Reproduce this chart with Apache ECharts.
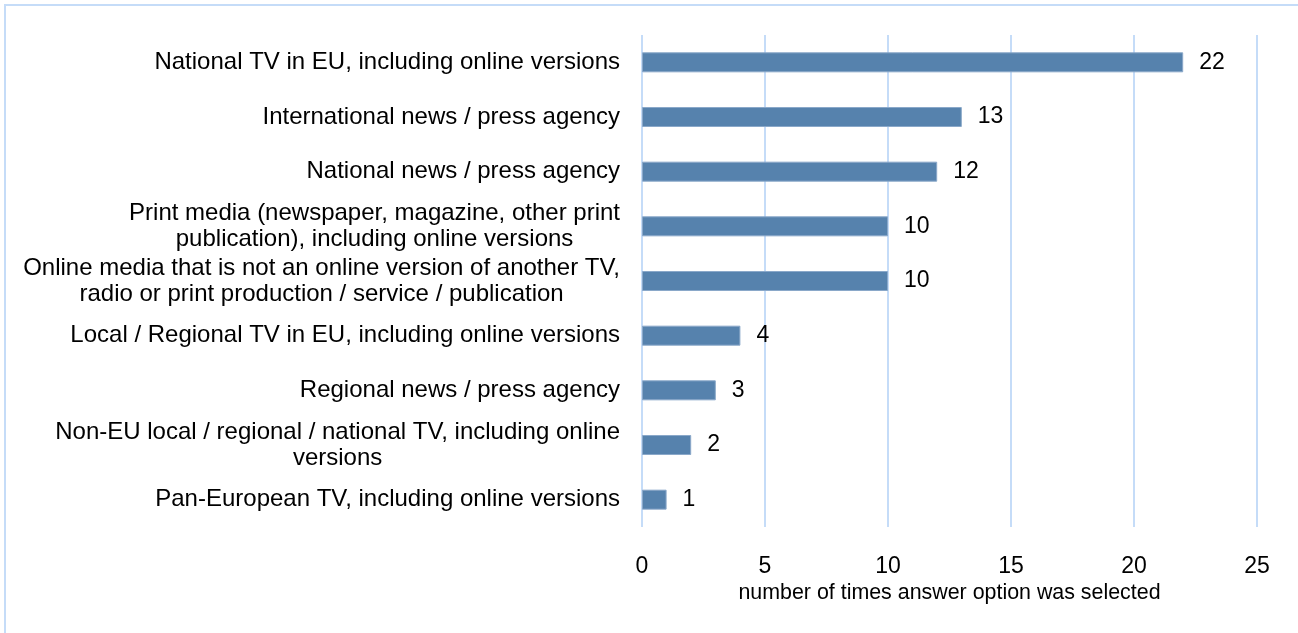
<!DOCTYPE html>
<html>
<head>
<meta charset="utf-8">
<style>
  html, body { margin: 0; padding: 0; background: #fff; }
  #chart { width: 1298px; height: 633px; }
</style>
<script src="https://cdn.jsdelivr.net/npm/echarts@6/dist/echarts.min.js"></script>
</head>
<body>
<div id="chart"></div>
<script>
// Answer options, listed top to bottom
const categories = [
  'National TV in EU, including online versions',
  'International news / press agency',
  'National news / press agency',
  'Print media (newspaper, magazine, other print\npublication), including online versions',
  'Online media that is not an online version of another TV,\nradio or print production / service / publication',
  'Local / Regional TV in EU, including online versions',
  'Regional news / press agency',
  'Non-EU local / regional / national TV, including online\nversions',
  'Pan-European TV, including online versions'
];

// Number of times each option was selected
const counts = [22, 13, 12, 10, 10, 4, 3, 2, 1];

const axisTitle = 'number of times answer option was selected';

const FONT = '"Liberation Sans", Arial, sans-serif';
const GRID_COLOR = '#C5DCF8';

const chart = echarts.init(document.getElementById('chart'), null, { renderer: 'canvas' });

chart.setOption({
  backgroundColor: '#ffffff',
  animation: false,
  textStyle: { fontFamily: FONT },
  graphic: [{
    type: 'rect',
    shape: { x: 5, y: 5, width: 1400, height: 700 },
    style: { fill: 'none', stroke: GRID_COLOR, lineWidth: 2 },
    silent: true,
    z: -1
  }],
  grid: { left: 642, right: 41, top: 35, bottom: 106, containLabel: false },
  xAxis: {
    type: 'value',
    min: 0,
    max: 25,
    interval: 5,
    name: axisTitle,
    nameLocation: 'middle',
    nameGap: 56,
    nameTextStyle: { color: '#000', fontSize: 21.4, fontFamily: FONT },
    axisLine: { show: false },
    axisTick: { show: false },
    axisLabel: { color: '#000', fontSize: 23, margin: 28, fontFamily: FONT },
    splitLine: { show: true, lineStyle: { color: GRID_COLOR, width: 2 } }
  },
  yAxis: {
    type: 'category',
    data: categories,
    inverse: true,
    axisLine: { show: false },
    axisTick: { show: false },
    axisLabel: {
      color: '#000',
      fontSize: 24,
      lineHeight: 26,
      margin: 22,
      align: 'right',
      fontFamily: FONT,
      // each wrapped line is centred within the right-aligned label block
      formatter: function (value) {
        return value.split('\n').map(function (line) { return '{c|' + line + '}'; }).join('\n');
      },
      rich: {
        c: { align: 'center', fontSize: 24, lineHeight: 26, color: '#000', fontFamily: FONT }
      }
    }
  },
  series: [{
    type: 'bar',
    data: counts,
    barWidth: 20,
    itemStyle: { color: '#5682AD', borderColor: '#8AA8C9', borderWidth: 1 },
    label: {
      show: true,
      position: 'right',
      distance: 16,
      color: '#000',
      fontSize: 23,
      fontFamily: FONT
    }
  }]
});
</script>
</body>
</html>
